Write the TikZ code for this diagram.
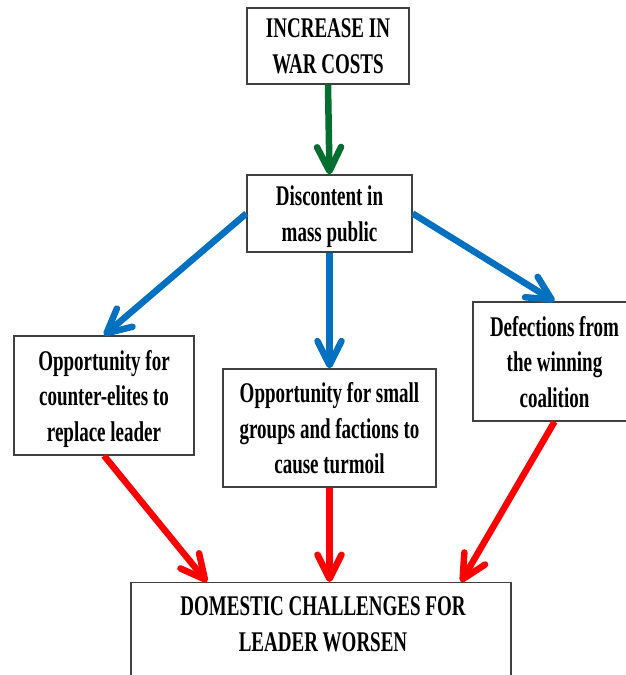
\documentclass[tikz,border=0pt]{standalone}
\usepackage{fontspec}
\setmainfont{Liberation Serif}[FakeStretch=0.667]
\usetikzlibrary{arrows.meta}
\definecolor{grnarr}{RGB}{0,110,46}
\definecolor{bluarr}{RGB}{0,112,192}
\definecolor{redarr}{RGB}{255,0,0}
\definecolor{boxline}{RGB}{64,64,64}
\begin{document}
\begin{tikzpicture}[x=1pt,y=-1pt,
  box/.style={draw=boxline, line width=1.3pt, fill=white, align=center,
    font=\bfseries\fontsize{28.5}{35.5}\selectfont, inner sep=0pt, text depth=0pt},
  txt/.style={align=center, font=\bfseries\fontsize{28.5}{36.5}\selectfont, inner sep=0pt, text depth=0pt},
  arr/.style={line width=6.5pt, -{Straight Barb[length=24pt,width=24pt,round]}},
  grn/.style={arr, draw=grnarr},
  blu/.style={arr, draw=bluarr},
  rd/.style={arr, draw=redarr}]
\useasboundingbox (0,0) rectangle (626,675);
\node[box, minimum width=162pt, minimum height=76pt] (inc) at (328,46) {INCREASE IN\\WAR COSTS};
\node[box, minimum width=165pt, minimum height=77pt] (dis) at (329.5,213.5) {Discontent in\\mass public};
\node[box, minimum width=180pt, minimum height=119pt] (opp1) at (104,395.5) {Opportunity for\\counter-elites to\\replace leader};
\node[box, minimum width=213pt, minimum height=118pt] (opp2) at (329.5,428) {Opportunity for small\\groups and factions to\\cause turmoil};
\node[box, minimum width=163pt, minimum height=119pt] (def) at (554.5,361.5) {Defections from\\the winning\\coalition};
\node[box, minimum width=380pt, minimum height=120pt, anchor=north] (dom) at (321,582) {};
\node[txt] (domt) at (323,624) {DOMESTIC CHALLENGES FOR\\LEADER WORSEN};
\draw[grn] (inc.south) -- (dis.north);
\draw[blu] (dis.west) -- (opp1.north);
\draw[blu] (dis.south) -- (opp2.north);
\draw[blu] (dis.east) -- (def.north);
\draw[rd] (opp1.south) -- ([xshift=-114pt]dom.north);
\draw[rd] (opp2.south) -- (opp2.south |- dom.north);
\draw[rd] (def.south) -- ([xshift=140pt]dom.north);
\end{tikzpicture}
\end{document}
